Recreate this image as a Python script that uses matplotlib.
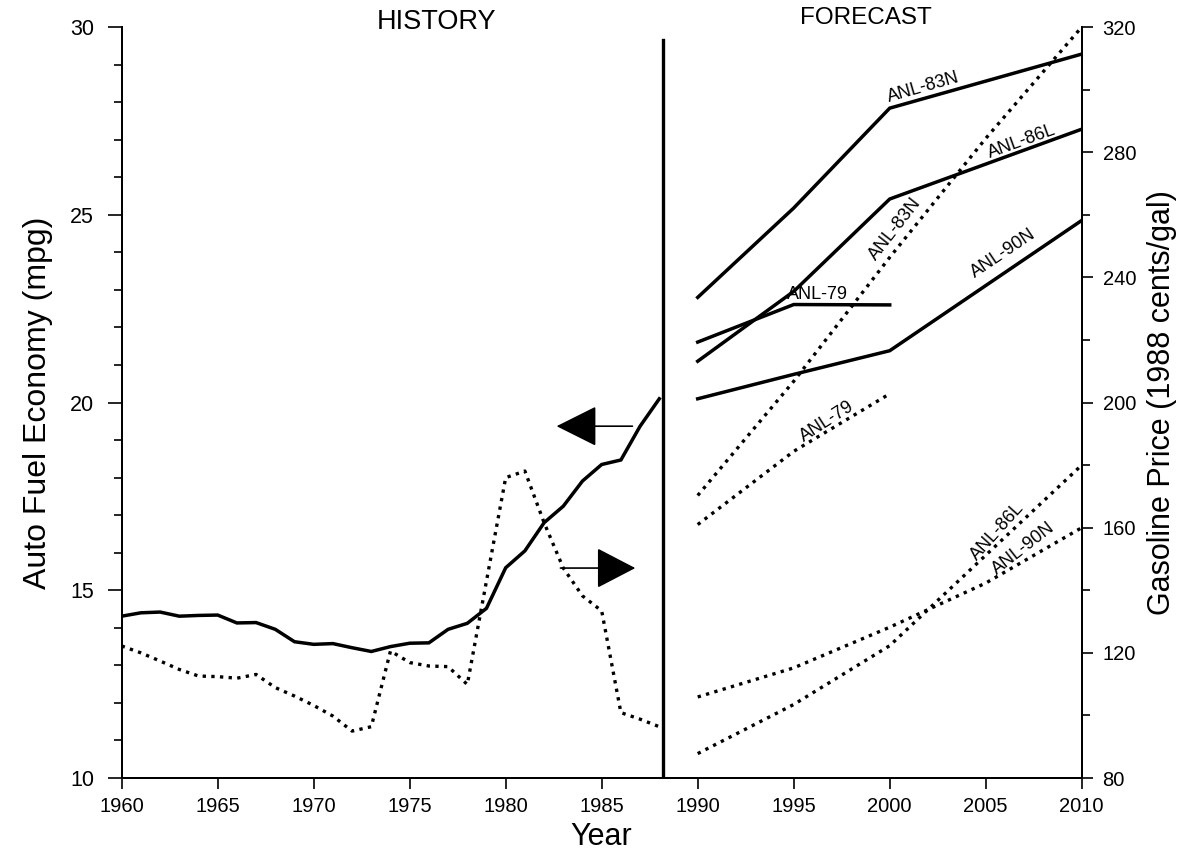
import matplotlib
matplotlib.use('Agg')
import matplotlib.pyplot as plt
from matplotlib.ticker import MultipleLocator

plt.rcParams['font.family'] = ['Liberation Sans', 'DejaVu Sans']

# History, 1960-1988
hist_years = list(range(1960, 1989))
hist_mpg = [14.31, 14.40, 14.42, 14.31, 14.33, 14.34, 14.13, 14.14, 13.96, 13.63,
            13.56, 13.58, 13.47, 13.37, 13.50, 13.59, 13.60, 13.96, 14.12, 14.52,
            15.60, 16.05, 16.80, 17.24, 17.91, 18.35, 18.47, 19.37, 20.10]
hist_price = [122.2, 120.0, 117.4, 114.7, 112.6, 112.4, 111.9, 113.1, 108.9, 106.2,
              103.2, 99.8, 95.0, 96.4, 120.6, 116.9, 115.8, 115.6, 109.9, 143.0,
              176.0, 178.1, 161.6, 147.1, 138.2, 133.4, 100.9, 98.8, 96.4]

# Forecasts: fuel economy (mpg)
fc_mpg_years = [1990, 1995, 2000, 2010]
mpg_83n = [22.80, 25.18, 27.84, 29.28]
mpg_86l = [21.10, 22.96, 25.42, 27.28]
mpg_90n = [20.10, 20.75, 21.38, 24.85]
mpg_79_years = [1990, 1995, 2000]
mpg_79 = [21.61, 22.61, 22.60]

# Forecasts: gasoline price (1988 cents/gal)
fc_price_years = [1990, 1995, 2000, 2005, 2010]
price_83n = [170.3, 206.8, 246.4, 284.4, 320.0]
price_86l = [87.8, 103.5, 122.3, 151.2, 180.0]
price_90n = [105.9, 115.2, 128.2, 142.3, 160.0]
price_79_years = [1990, 1995, 2000]
price_79 = [161.0, 184.4, 202.8]

split_year = 1988.2

fig = plt.figure(figsize=(11.79, 8.56), dpi=100)
ax = fig.add_axes([0.1032, 0.0911, 0.8143, 0.8773])
ax2 = ax.twinx()

solid = dict(color='black', lw=2.5, solid_joinstyle='miter')
dotted = dict(color='black', lw=2.4, linestyle=(0, (1, 1.6)))

# history
ax.plot(hist_years, hist_mpg, **solid)
ax2.plot(hist_years, hist_price, **dotted)

# forecasts
ax.plot(fc_mpg_years, mpg_83n, **solid)
ax.plot(fc_mpg_years, mpg_86l, **solid)
ax.plot(fc_mpg_years, mpg_90n, **solid)
ax.plot(mpg_79_years, mpg_79, **solid)
ax2.plot(fc_price_years, price_83n, **dotted)
ax2.plot(fc_price_years, price_86l, **dotted)
ax2.plot(fc_price_years, price_90n, **dotted)
ax2.plot(price_79_years, price_79, **dotted)

# divider between history and forecast
ax.axvline(split_year, ymin=0, ymax=0.983, color='black', lw=2.4)

# arrows pointing to the axis each curve belongs to
i87 = hist_years.index(1987)
i83 = hist_years.index(1983)
ax.annotate('', xy=(1982.65, hist_mpg[i87]), xytext=(1986.6, hist_mpg[i87]),
            arrowprops=dict(arrowstyle='-|>,head_length=2.6,head_width=1.3',
                            color='black', lw=1.2, mutation_scale=10,
                            shrinkA=0, shrinkB=0))
ax2.annotate('', xy=(1986.75, hist_price[i83]), xytext=(1982.85, hist_price[i83]),
             arrowprops=dict(arrowstyle='-|>,head_length=2.5,head_width=1.3',
                             color='black', lw=1.2, mutation_scale=10,
                             shrinkA=0, shrinkB=0))

# curve labels
lab = dict(fontsize=13, ha='center', va='center')
ax.text(2001.75, 28.39, 'ANL-83N', rotation=16, **lab)
ax.text(2006.9, 26.95, 'ANL-86L', rotation=20, **lab)
ax.text(1996.23, 22.88, 'ANL-79', rotation=0, **lab)
ax.text(2005.92, 23.97, 'ANL-90N', rotation=34, **lab)
ax.text(2000.28, 24.62, 'ANL-83N', rotation=52, **lab)
ax.text(1996.72, 19.49, 'ANL-79', rotation=33, **lab)
ax.text(2005.6, 16.57, 'ANL-86L', rotation=48, **lab)
ax.text(2006.96, 16.11, 'ANL-90N', rotation=38, **lab)

fig.text(0.370, 0.974, 'HISTORY', fontsize=19.5, ha='center', va='center')
fig.text(0.7345, 0.979, 'FORECAST', fontsize=17.5, ha='center', va='center')

# axes
ax.set_xlim(1960, 2010)
ax.set_ylim(10, 30)
ax2.set_ylim(80, 320)
ax.xaxis.set_major_locator(MultipleLocator(5))
ax.yaxis.set_major_locator(MultipleLocator(5))
ax.yaxis.set_minor_locator(MultipleLocator(1))
ax2.yaxis.set_major_locator(MultipleLocator(40))
ax2.yaxis.set_minor_locator(MultipleLocator(20))

for a in (ax, ax2):
    a.spines['top'].set_visible(False)
    for s in ('left', 'right', 'bottom'):
        a.spines[s].set_linewidth(1.4)

ax.tick_params(axis='x', direction='out', length=8, width=1.2, labelsize=14.5, pad=6)
ax.tick_params(axis='y', which='major', direction='out', length=10, width=1.2,
               labelsize=15.5, pad=10)
ax.tick_params(axis='y', which='minor', direction='out', length=6, width=1.2)
ax2.tick_params(axis='y', which='major', direction='out', length=8, width=1.2,
                labelsize=14.5, pad=7)
ax2.tick_params(axis='y', which='minor', direction='out', length=6, width=1.2)

ax.set_xlabel('Year', fontsize=22, labelpad=4)
ax.set_ylabel('Auto Fuel Economy (mpg)', fontsize=23, labelpad=12)
ax2.set_ylabel('Gasoline Price (1988 cents/gal)', fontsize=22, labelpad=8)

fig.savefig('out.png', dpi=100)
